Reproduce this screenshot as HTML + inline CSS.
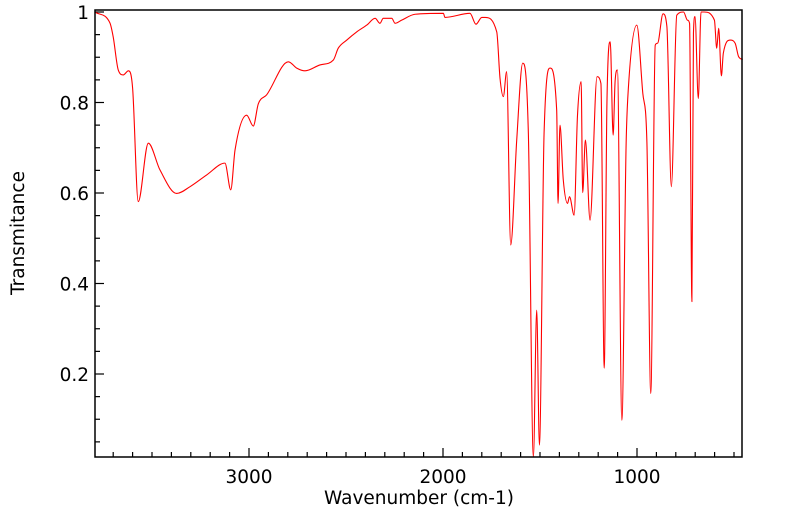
<!DOCTYPE html>
<html><head><meta charset="utf-8"><style>
html,body{margin:0;padding:0;background:#fff;width:799px;height:516px;overflow:hidden}
svg text{font-family:"DejaVu Sans","Liberation Sans",sans-serif;font-size:18.5px;fill:#000}
</style></head><body>
<svg id="chart" width="799" height="516" xmlns="http://www.w3.org/2000/svg">
<g id="axes"></g>
<path id="line" fill="none" stroke="#ff0000" stroke-width="1.1" stroke-linejoin="round"/>
<rect x="95" y="10" width="647" height="447" fill="none" stroke="#000" stroke-width="1.5"/>
<text x="419" y="504" text-anchor="middle">Wavenumber (cm-1)</text>
<text transform="translate(24,233) rotate(-90)" text-anchor="middle">Transmitance</text>
</svg>
<script>
const wavenumbers=[3790,3717,3700,3674,3648,3622,3600,3571,3519,3459,3373,3304,3218,3124,3094,3072,3012,2978,2952,2909,2797,2754,2711,2634,2565,2540,2496,2445,2393,2350,2325,2308,2264,2247,2213,2144,1998,1990,1861,1830,1800,1783,1723,1706,1689,1672,1651,1620,1589,1560,1534,1517,1503,1479,1448,1414,1407,1397,1380,1358,1348,1324,1307,1288,1280,1266,1242,1206,1186,1169,1155,1138,1123,1113,1101,1078,1056,1044,1001,970,949,929,906,894,866,846,823,795,760,740,729,717,709,701,684,670,654,601,589,579,565,555,519,494,476,455];
const transmittance=[0.999,0.976,0.945,0.872,0.861,0.870,0.832,0.581,0.710,0.651,0.599,0.614,0.640,0.666,0.607,0.695,0.772,0.748,0.797,0.817,0.890,0.876,0.870,0.883,0.894,0.920,0.938,0.956,0.971,0.986,0.975,0.986,0.986,0.975,0.982,0.995,0.997,0.988,0.997,0.973,0.988,0.988,0.956,0.853,0.813,0.868,0.485,0.717,0.887,0.732,0.017,0.341,0.043,0.732,0.876,0.783,0.577,0.750,0.629,0.577,0.592,0.551,0.769,0.846,0.601,0.717,0.540,0.857,0.842,0.213,0.798,0.934,0.728,0.846,0.872,0.098,0.710,0.835,0.971,0.820,0.713,0.157,0.927,0.931,0.996,0.968,0.614,0.993,1.0,0.982,0.975,0.360,0.953,0.990,0.809,1.0,1.0,0.982,0.920,0.964,0.859,0.909,0.938,0.931,0.901,0.895];
const yMajor=[1,0.8,0.6,0.4,0.2];
const yMajorLabels=["1","0.8","0.6","0.4","0.2"];
const xMajor=[3000,2000,1000];
const xMajorLabels=["3000","2000","1000"];
const NS="http://www.w3.org/2000/svg";
function X(w){return 249+(3000-w)*0.194;}
function Y(t){return 12+(1-t)*452.5;}
const axes=document.getElementById('axes');
function mk(tag,attrs){const e=document.createElementNS(NS,tag);for(const k in attrs)e.setAttribute(k,attrs[k]);return e;}
for(let t=0.05;t<=1.0001;t+=0.05){
  const y=Y(t);if(y<10||y>457)continue;
  const major=Math.abs(Math.round(t*5)-t*5)<1e-6;
  const l=mk('line',{x1:95,x2:95+(major?9:5),y1:y,y2:y,stroke:'#000','stroke-width':1.2});
  
  
  axes.appendChild(l);
}
yMajor.forEach((t,i)=>{
  const tx=mk('text',{x:89,y:Y(t)+7,'text-anchor':'end'});
  tx.textContent=yMajorLabels[i];
  
  
  axes.appendChild(tx);
});
for(let w=3700;w>=500;w-=100){
  const x=X(w);if(x<95||x>742)continue;
  const major=w%1000===0;
  const l=mk('line',{x1:x,x2:x,y1:457,y2:457-(major?9:5),stroke:'#000','stroke-width':1.2});
  
  
  axes.appendChild(l);
}
xMajor.forEach((w,i)=>{
  const tx=mk('text',{x:X(w),y:483,'text-anchor':'middle'});
  tx.textContent=xMajorLabels[i];
  
  
  axes.appendChild(tx);
});
// monotone cubic path
const px=wavenumbers.map(X), py=transmittance.map(Y);
const n=px.length, dk=[], m=[];
for(let i=0;i<n-1;i++)dk.push((py[i+1]-py[i])/(px[i+1]-px[i]));
for(let i=0;i<n;i++){
  if(i===0)m.push(dk[0]);else if(i===n-1)m.push(dk[n-2]);
  else m.push(dk[i-1]*dk[i]<=0?0:(dk[i-1]+dk[i])/2);
}
for(let i=0;i<n-1;i++){
  if(dk[i]===0){m[i]=0;m[i+1]=0;continue;}
  const a=m[i]/dk[i],b=m[i+1]/dk[i],s=a*a+b*b;
  if(s>9){const t=3/Math.sqrt(s);m[i]=t*a*dk[i];m[i+1]=t*b*dk[i];}
}
let d='M'+px[0].toFixed(1)+','+py[0].toFixed(1);
for(let i=0;i<n-1;i++){
  const h=(px[i+1]-px[i])/3;
  d+='C'+(px[i]+h).toFixed(2)+','+(py[i]+m[i]*h).toFixed(2)+' '+(px[i+1]-h).toFixed(2)+','+(py[i+1]-m[i+1]*h).toFixed(2)+' '+px[i+1].toFixed(2)+','+py[i+1].toFixed(2);
}
document.getElementById('line').setAttribute('d',d);
</script>
</body></html>
